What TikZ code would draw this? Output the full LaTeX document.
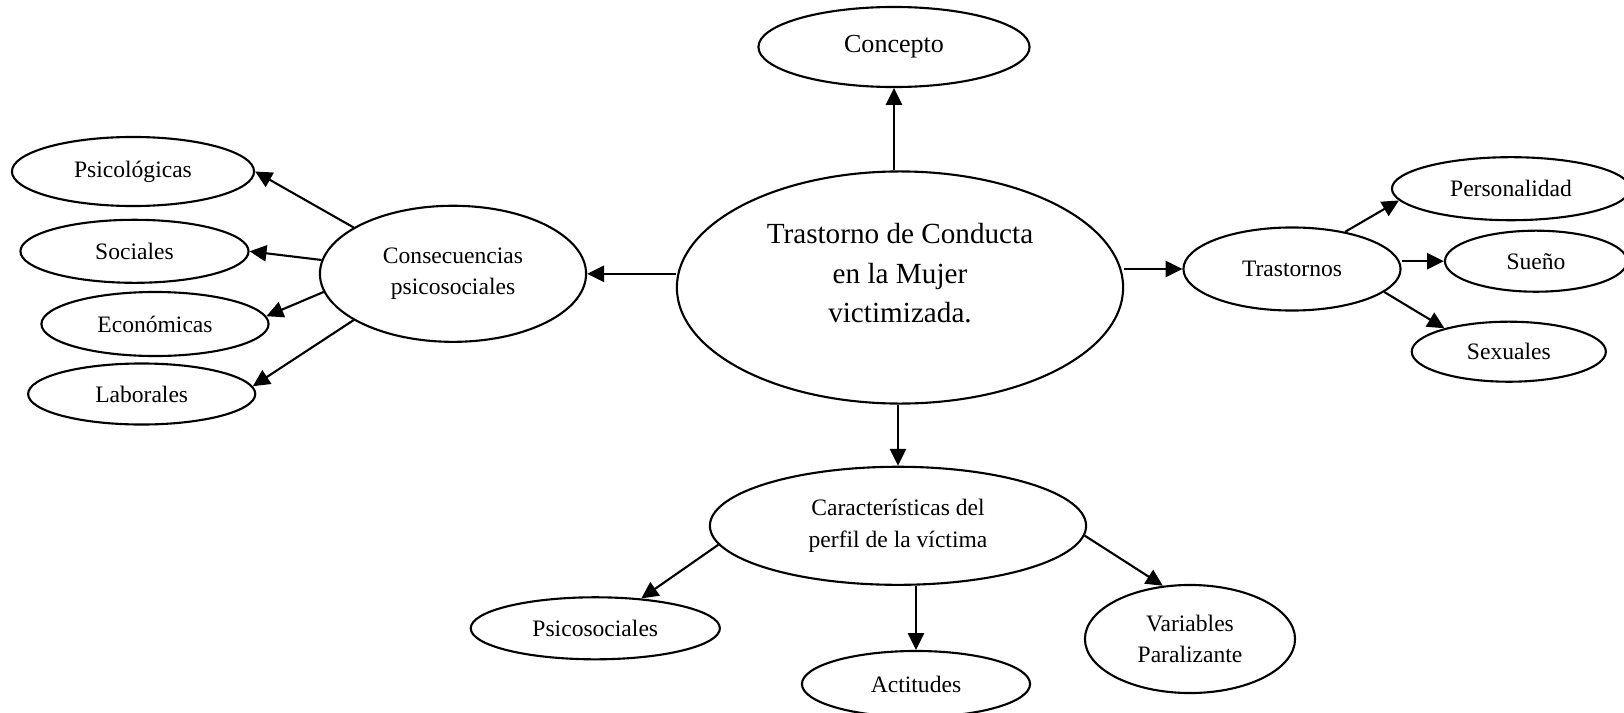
\documentclass[tikz,border=0pt]{standalone}
\usepackage{fontspec}
\setmainfont{Liberation Serif}
\usetikzlibrary{shapes.geometric, arrows.meta}

\begin{document}
\begin{tikzpicture}[x=0.01cm, y=-0.01cm,
    elipse/.style={ellipse, draw, line width=0.6pt, inner sep=0pt, align=center, font=\fontsize{6.7}{9}\selectfont},
    flecha/.style={-{Triangle[length=4.8pt, width=4.6pt]}, line width=0.6pt}]
      \useasboundingbox (0,0) rectangle (1624,712);

      \node[elipse, minimum width=4.46cm, minimum height=2.32cm, font=\fontsize{8.3}{11.2}\selectfont] (central) at (900,287.5) {Trastorno de Conducta\\en la Mujer\\victimizada.\\[-3pt]\mbox{}};
      \node[elipse, minimum width=2.71cm, minimum height=0.80cm, font=\fontsize{7.4}{9}\selectfont] (concepto) at (894,47) {Concepto};

      % consecuencias
      \node[elipse, minimum width=2.66cm, minimum height=1.36cm] (cons) at (453,273.8) {Consecuencias\\psicosociales};
      \node[elipse, minimum width=2.42cm, minimum height=0.69cm] (psico) at (133,171.5) {Psicológicas};
      \node[elipse, minimum width=2.28cm, minimum height=0.63cm] (sociales) at (134.5,251.3) {Sociales};
      \node[elipse, minimum width=2.27cm, minimum height=0.64cm] (econ) at (155,324) {Económicas};
      \node[elipse, minimum width=2.27cm, minimum height=0.61cm] (labor) at (141.7,394) {Laborales};

      % trastornos
      \node[elipse, minimum width=2.17cm, minimum height=0.83cm] (trast) at (1292,269) {Trastornos};
      \node[elipse, minimum width=2.38cm, minimum height=0.63cm] (perso) at (1511,188.7) {Personalidad};
      \node[elipse, minimum width=1.82cm, minimum height=0.61cm] (sueno) at (1536,261.2) {Sueño};
      \node[elipse, minimum width=1.94cm, minimum height=0.60cm] (sexuales) at (1508.8,351.7) {Sexuales};

      % perfil de la victima
      \node[elipse, minimum width=3.76cm, minimum height=1.18cm] (carac) at (898,525.8) {Características del\\perfil de la víctima};
      \node[elipse, minimum width=2.49cm, minimum height=0.62cm] (psicosoc) at (595.3,628.3) {Psicosociales};
      \node[elipse, minimum width=2.28cm, minimum height=0.66cm] (actit) at (916,684) {Actitudes};
      \node[elipse, minimum width=2.10cm, minimum height=1.08cm] (variables) at (1190,639) {Variables\\Paralizante};

      \draw (concepto.south |- central.north) edge[flecha] (concepto.south);
      \draw (cons.east -| central.west) edge[flecha] (cons.east);
      \draw (trast.west -| central.east) edge[flecha] (trast.west);
      \draw (carac.north |- central.south) edge[flecha] (carac.north);

      \draw (cons.155) edge[flecha] (psico.east);
      \draw (cons.174) edge[flecha] (sociales.east);
      \draw (cons.188) edge[flecha] (econ.4);
      \draw (cons.205) edge[flecha] (labor.4);

      \draw (trast.35) edge[flecha] (perso.186);
      \draw (sueno.west -| trast.east) edge[flecha] (sueno.west);
      \draw (trast.346) edge[flecha] (sexuales.160);

      \draw (carac.186) edge[flecha] (psicosoc.33);
      \draw (actit.north |- carac.south) edge[flecha] (actit.north);
      \draw (carac.357) edge[flecha] (variables.117);
    \end{tikzpicture}
\end{document}
